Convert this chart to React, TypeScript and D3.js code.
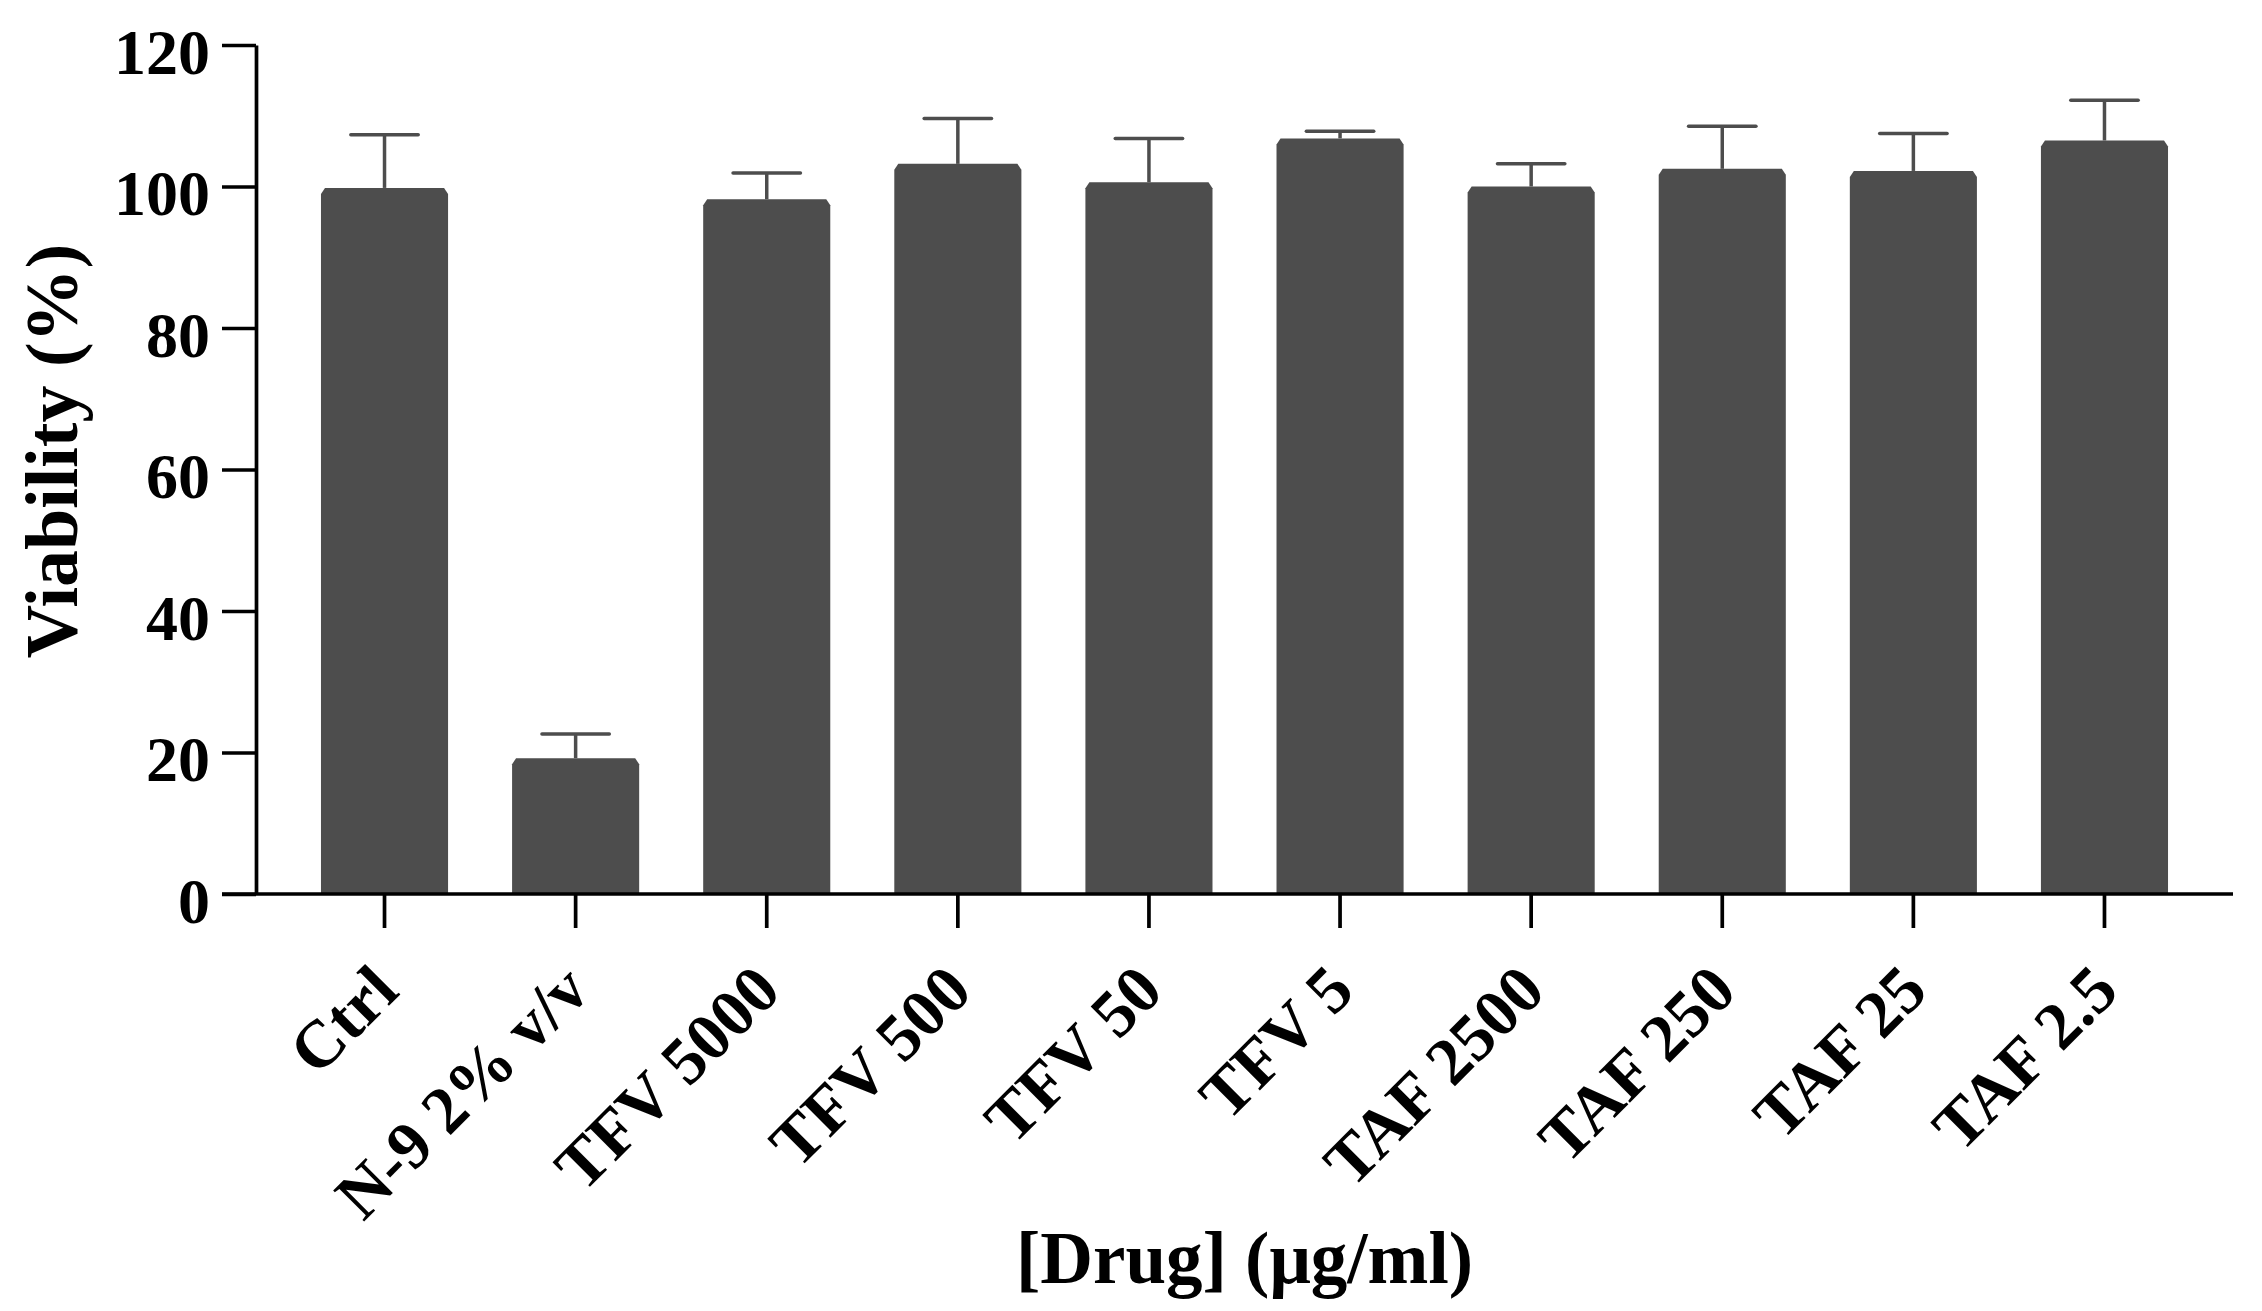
import React, { useEffect, useRef } from 'react';
import * as d3 from 'd3';

// Cell viability per treatment, mean and upper error (SD).
const CATEGORIES: string[] = [
  'Ctrl',
  'N-9 2% v/v',
  'TFV 5000',
  'TFV 500',
  'TFV 50',
  'TFV 5',
  'TAF 2500',
  'TAF 250',
  'TAF 25',
  'TAF 2.5',
];
const MEANS: number[] = [99.8, 19.2, 98.2, 103.2, 100.6, 106.8, 100.0, 102.5, 102.2, 106.5];
const ERRORS: number[] = [7.5, 3.4, 3.7, 6.4, 6.2, 1.0, 3.2, 6.0, 5.3, 5.7];
const Y_TICKS: number[] = [0, 20, 40, 60, 80, 100, 120];

const W = 2262;
const H = 1311;
const FONT = '"Liberation Serif", "Times New Roman", serif';
const BAR = '#4d4d4d';

const App: React.FC = () => {
  const ref = useRef<SVGSVGElement>(null);

  useEffect(() => {
    const svgEl = ref.current;
    if (!svgEl) return;
    const svg = d3.select(svgEl);
    svg.selectAll('*').remove();

    const left = 256;
    const right = 2233;
    const top = 45;
    const bottom = 894;

    const x = d3.scaleBand<string>().domain(CATEGORIES).range([left, right]).paddingInner(0.335).paddingOuter(0.34);
    const y = d3.scaleLinear().domain([0, 120]).range([bottom, top]);

    const data = CATEGORIES.map((c, i) => ({ c, m: MEANS[i], e: ERRORS[i] }));

    // bars with the small bevel on the top corners
    const bev = 5;
    svg
      .append('g')
      .selectAll('path')
      .data(data)
      .join('path')
      .attr('fill', BAR)
      .attr('d', (d) => {
        const x0 = x(d.c) ?? 0;
        const x1 = x0 + x.bandwidth();
        const yt = y(d.m);
        return `M${x0},${bottom}V${yt + bev + 1}L${x0 + bev - 1},${yt}H${x1 - bev + 1}L${x1},${yt + bev + 1}V${bottom}Z`;
      });

    // error bars (upper only)
    const capW = x.bandwidth() * 0.53;
    const eb = svg.append('g').attr('stroke', BAR).attr('stroke-width', 3.5).attr('stroke-linecap', 'round');
    eb.selectAll('line.stem')
      .data(data)
      .join('line')
      .attr('class', 'stem')
      .attr('stroke-linecap', 'butt')
      .attr('x1', (d) => (x(d.c) ?? 0) + x.bandwidth() / 2)
      .attr('x2', (d) => (x(d.c) ?? 0) + x.bandwidth() / 2)
      .attr('y1', (d) => y(d.m))
      .attr('y2', (d) => y(d.m + d.e));
    eb.selectAll('line.cap')
      .data(data)
      .join('line')
      .attr('class', 'cap')
      .attr('x1', (d) => (x(d.c) ?? 0) + x.bandwidth() / 2 - capW / 2)
      .attr('x2', (d) => (x(d.c) ?? 0) + x.bandwidth() / 2 + capW / 2)
      .attr('y1', (d) => y(d.m + d.e))
      .attr('y2', (d) => y(d.m + d.e));

    // y axis
    const yAxis = d3.axisLeft(y).tickValues(Y_TICKS).tickSize(34).tickSizeOuter(0).tickPadding(12);
    svg
      .append('g')
      .attr('transform', `translate(${left},0)`)
      .call(yAxis)
      .call((s) => s.selectAll('path,line').attr('stroke', '#000').attr('stroke-width', 3.7))
      .call((s) =>
        s
          .selectAll('text')
          .attr('fill', '#000')
          .attr('font-family', FONT)
          .attr('font-weight', 700)
          .attr('font-size', 64)
          .attr('dy', '0.44em'),
      );

    // x axis
    const xAxis = d3.axisBottom(x).tickSize(34).tickSizeOuter(0).tickFormat(() => '');
    svg
      .append('g')
      .attr('transform', `translate(0,${bottom})`)
      .call(xAxis)
      .call((s) => s.select('path').attr('d', `M${left - 34},0H${right}`))
      .call((s) => s.selectAll('path,line').attr('stroke', '#000').attr('stroke-width', 3.7));

    svg
      .append('g')
      .selectAll('text')
      .data(CATEGORIES)
      .join('text')
      .attr('transform', (d) => `translate(${(x(d) ?? 0) + x.bandwidth() / 2},977) rotate(-45)`)
      .attr('text-anchor', 'end')
      .attr('dy', '0.35em')
      .attr('font-family', FONT)
      .attr('font-weight', 700)
      .attr('font-size', 67)
      .attr('fill', '#000')
      .text((d) => d);

    // titles
    svg
      .append('text')
      .attr('x', (left + right) / 2)
      .attr('y', 1283)
      .attr('text-anchor', 'middle')
      .attr('font-family', FONT)
      .attr('font-weight', 700)
      .attr('font-size', 73)
      .attr('fill', '#000')
      .text('[Drug] (μg/ml)');

    svg
      .append('text')
      .attr('transform', `translate(77,451) rotate(-90)`)
      .attr('text-anchor', 'middle')
      .attr('font-family', FONT)
      .attr('font-weight', 700)
      .attr('font-size', 74)
      .attr('fill', '#000')
      .text('Viability (%)');
  }, []);

  return (
    <svg
      ref={ref}
      width={W}
      height={H}
      viewBox={`0 0 ${W} ${H}`}
      style={{ position: 'absolute', left: 0, top: 0, background: '#fff' }}
      aria-label="Cell viability by drug concentration"
    />
  );
};

export default App;
